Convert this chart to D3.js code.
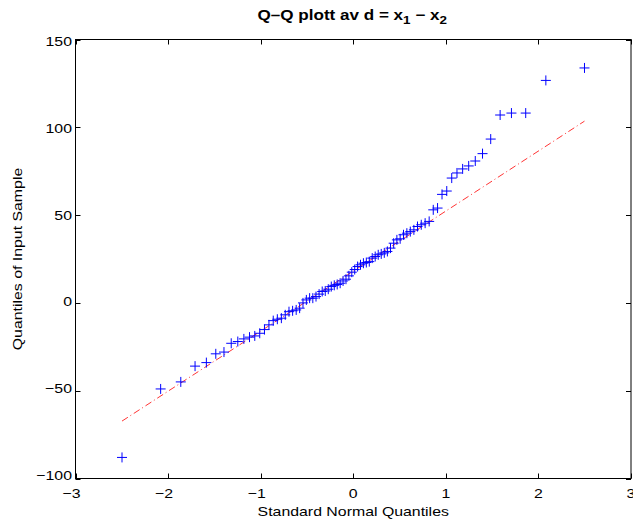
<!DOCTYPE html>
<html><head><meta charset="utf-8">
<script src="https://cdn.jsdelivr.net/npm/d3@7"></script>
<style>body{margin:0;background:#fff}svg{display:block}text{font-family:"Liberation Sans",Arial,Helvetica,sans-serif}</style>
</head><body>
<svg id="c" width="633" height="523"></svg>
<script>
// Standard normal quantiles for n = 80 (theoretical x positions)
const normalQuantiles = [-2.4977,-2.0803,-1.8627,-1.7087,-1.5865,-1.4847,-1.3963,-1.3180,-1.2469,-1.1815,
 -1.1204,-1.0637,-1.0100,-0.9588,-0.9106,-0.8641,-0.8199,-0.7764,-0.7345,-0.6941,
 -0.6549,-0.6163,-0.5791,-0.5428,-0.5066,-0.4713,-0.4367,-0.4023,-0.3688,-0.3353,
 -0.3024,-0.2698,-0.2372,-0.2050,-0.1732,-0.1414,-0.1099,-0.0784,-0.0470,-0.0157,
 0.0157,0.0470,0.0784,0.1099,0.1414,0.1732,0.2050,0.2372,0.2698,0.3024,
 0.3353,0.3688,0.4023,0.4367,0.4713,0.5066,0.5428,0.5791,0.6163,0.6549,
 0.6941,0.7345,0.7764,0.8199,0.8641,0.9106,0.9588,1.0100,1.0637,1.1204,
 1.1815,1.2469,1.3180,1.3963,1.4847,1.5865,1.7087,1.8627,2.0803,2.4977];
// Sorted sample quantiles
const sampleQuantiles = [-88,-49,-45,-36,-34,-29,-28,-23,-22,-20.5,
 -19.5,-18.8,-17.3,-15.2,-12.5,-10.1,-9.3,-8.7,-6.8,-5.0,
 -4.5,-4.0,-3.0,0,1.7,2.7,2.7,3.6,5.0,6.5,
 6.8,7.8,9.3,10.0,10.5,11.2,12.5,13.5,15.4,17.5,
 19,20.7,21.7,22.6,23.0,23.5,25.5,26.4,27.4,27.9,
 28.5,29.3,31.2,34.0,35.9,36.5,38.8,39.7,40.6,41.6,
 43.5,44.5,45.4,46.4,53.0,54.0,61.8,63.7,71.1,74.0,
 76.3,78.0,80.8,85.0,93.3,107,108.1,108.1,126.7,133.8];
// Reference line endpoints
const refLineX = [-2.4977, 2.4977];
const refLineY = [-67.3, 103.5];
const xTicks = [-3,-2,-1,0,1,2,3];
const yTicks = [-100,-50,0,50,100,150];
const titleParts = ["Q\u2013Q plott av d = x","1"," \u2212 x","2"];
const xLabel = "Standard Normal Quantiles";
const yLabel = "Quantiles of Input Sample";

const L=75.5, R=631, T=39.5, B=478.5;
const SX = 1.22;
const svg = d3.select("#c");
const x = d3.scaleLinear().domain([-3,3]).range([L,R]);
const y = d3.scaleLinear().domain([-100,150]).range([B,T]);
const yLab = d3.scaleLinear().domain([-100,150]).range([475.5,41.2]);
const fmt = d => (d<0?"\u2212":"")+Math.abs(d);
const tl = 5;

function stext(px,py,str,anchor,size,rot){
  return svg.append("text")
    .attr("transform",`translate(${px},${py})${rot?` rotate(${rot})`:""} scale(${SX},1)`)
    .attr("text-anchor",anchor).attr("font-size",size).text(str);
}

// box
svg.append("rect").attr("x",L).attr("y",T).attr("width",R-L).attr("height",B-T)
  .attr("fill","none").attr("stroke","#000").attr("stroke-width",1);

// x ticks
xTicks.forEach(t=>{
  const px = Math.round(x(t))+0.5;
  svg.append("line").attr("x1",px).attr("x2",px).attr("y1",B).attr("y2",B-tl).attr("stroke","#000");
  svg.append("line").attr("x1",px).attr("x2",px).attr("y1",T).attr("y2",T+tl).attr("stroke","#000");
  stext(x(t)-(t<0?4:0), 497.5, fmt(t), "middle", 13);
});
yTicks.forEach(t=>{
  const py = Math.round(y(t))+0.5;
  svg.append("line").attr("x1",L).attr("x2",L+tl).attr("y1",py).attr("y2",py).attr("stroke","#000");
  svg.append("line").attr("x1",R).attr("x2",R-tl).attr("y1",py).attr("y2",py).attr("stroke","#000");
  stext(L-3.5, yLab(t)+4.6, fmt(t), "end", 13);
});

// reference line
svg.append("line").attr("x1",x(refLineX[0])).attr("y1",y(refLineY[0]))
  .attr("x2",x(refLineX[1])).attr("y2",y(refLineY[1]))
  .attr("stroke","#ff0000").attr("stroke-width",0.8).attr("stroke-dasharray","7,3,1,3");

// points
const s=5;
const pts = svg.append("g").attr("stroke","#0000ff").attr("stroke-width",1).attr("fill","none");
normalQuantiles.forEach((q,i)=>{
  const px=x(q), py=y(sampleQuantiles[i]);
  pts.append("path").attr("d",`M${px-s},${py}H${px+s}M${px},${py-s}V${py+s}`);
});

// title
const tt = svg.append("text").attr("transform",`translate(${(L+R)/2-1},20) scale(${SX},1)`)
  .attr("text-anchor","middle").attr("font-size",14).attr("font-weight","bold");
tt.append("tspan").text(titleParts[0]);
tt.append("tspan").attr("dy",4).attr("font-size",11).text(titleParts[1]);
tt.append("tspan").attr("dy",-4).text(titleParts[2]);
tt.append("tspan").attr("dy",4).attr("font-size",11).text(titleParts[3]);

stext((L+R)/2, 516, xLabel, "middle", 13);
stext(22, (T+B)/2, yLabel, "middle", 13, -90);
</script>
</body></html>
